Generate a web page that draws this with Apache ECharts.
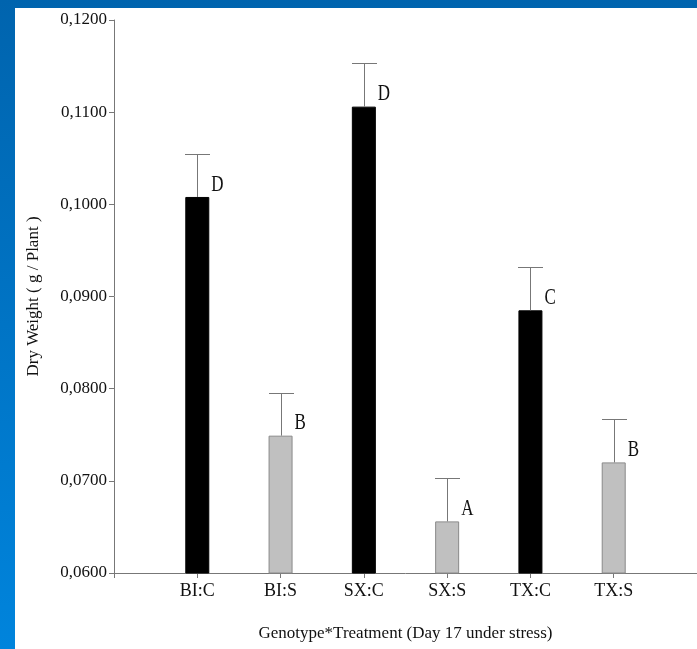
<!DOCTYPE html>
<html>
<head>
<meta charset="utf-8">
<script src="https://cdn.jsdelivr.net/npm/echarts@6/dist/echarts.min.js"></script>
<style>
html,body{margin:0;padding:0;}
#wrap{position:relative;width:697px;height:649px;background:linear-gradient(to bottom,#0064ae,#0084dc);overflow:hidden;}
#paper{position:absolute;left:15px;top:8px;right:0;bottom:0;background:#fff;}
#chart{position:absolute;left:0;top:0;width:697px;height:649px;}
</style>
</head>
<body>
<div id="wrap"><div id="paper"></div><div id="chart"></div></div>
<script>
// Data
var categories = ['BI:C', 'BI:S', 'SX:C', 'SX:S', 'TX:C', 'TX:S'];
var treatment = ['C', 'S', 'C', 'S', 'C', 'S'];
var meanWeight = [0.1008, 0.0749, 0.1106, 0.0656, 0.0885, 0.0720];
var stdError = [0.0047, 0.0046, 0.0047, 0.0047, 0.0047, 0.0047];
var groupLetters = ['D', 'B', 'D', 'A', 'C', 'B'];
var yTicks = [0.06, 0.07, 0.08, 0.09, 0.10, 0.11, 0.12];

var FONT = '"Liberation Serif", "Times New Roman", serif';
var axisCats = [''].concat(categories).concat(['\u00a0']);

var barData = meanWeight.map(function (v, i) {
  var isC = treatment[i] === 'C';
  return {
    value: [i + 1, v],
    itemStyle: {
      color: isC ? '#000000' : '#c0c0c0',
      borderColor: isC ? '#000000' : '#8a8a8a',
      borderWidth: 1
    }
  };
});
var errData = meanWeight.map(function (v, i) {
  return [i + 1, v, v + stdError[i]];
});

var chart = echarts.init(document.getElementById('chart'), null, {renderer: 'canvas'});
chart.setOption({
  backgroundColor: 'transparent',
  animation: false,
  grid: {left: 114, right: 0, top: 20, bottom: 76, containLabel: false, outerBoundsMode: 'none'},
  xAxis: {
    type: 'category',
    data: axisCats,
    boundaryGap: false,
    name: 'Genotype*Treatment (Day 17 under stress)',
    nameLocation: 'middle',
    nameGap: 52,
    nameTextStyle: {fontFamily: FONT, fontSize: 17, color: '#111'},
    axisLine: {lineStyle: {color: '#777', width: 1}},
    axisTick: {show: true, length: 5, lineStyle: {color: '#777'}, interval: 0},
    axisLabel: {fontFamily: FONT, fontSize: 18, color: '#111', margin: 9, interval: 0},
    splitLine: {show: false}
  },
  yAxis: {
    type: 'value',
    min: yTicks[0],
    max: yTicks[yTicks.length - 1],
    interval: 0.01,
    name: 'Dry Weight ( g / Plant )',
    nameLocation: 'middle',
    nameGap: 72,
    nameRotate: 90,
    nameTextStyle: {fontFamily: FONT, fontSize: 17, color: '#111'},
    axisLine: {show: true, lineStyle: {color: '#777', width: 1}},
    axisTick: {show: true, length: 5, lineStyle: {color: '#777'}},
    axisLabel: {
      fontFamily: FONT, fontSize: 17, color: '#111', margin: 7,
      formatter: function (v) { return v.toFixed(4).replace('.', ','); }
    },
    splitLine: {show: false}
  },
  series: [
    {
      type: 'bar',
      data: barData,
      barWidth: 24,
      z: 2
    },
    {
      type: 'custom',
      data: errData,
      z: 3,
      renderItem: function (params, api) {
        var x = api.value(0);
        var p0 = api.coord([x, api.value(1)]);
        var p1 = api.coord([x, api.value(2)]);
        var half = 12.5;
        var cx = Math.round(p0[0]) + 0.5;
        var ly = Math.round(p1[1]) + 0.5;
        return {
          type: 'group',
          children: [
            {type: 'line', shape: {x1: cx, y1: p0[1], x2: cx, y2: ly}, style: {stroke: '#777', lineWidth: 1}},
            {type: 'line', shape: {x1: cx - half, y1: ly, x2: cx + half, y2: ly}, style: {stroke: '#777', lineWidth: 1}},
            {type: 'text', x: p0[0] + 14, y: p0[1] - 12, scaleY: 1.3, style: {
              text: groupLetters[params.dataIndex], font: '17px ' + FONT, fill: '#111',
              align: 'left', verticalAlign: 'middle'
            }}
          ]
        };
      }
    }
  ]
});
</script>
</body>
</html>
